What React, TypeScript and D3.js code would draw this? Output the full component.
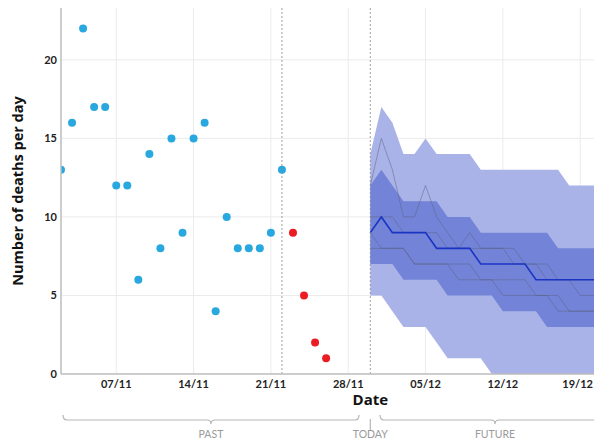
import React, { useRef, useEffect } from 'react';
import * as d3 from 'd3';

// observed deaths, one per day from 02/11
const observedStart = '2020-11-02';
const observed = [13, 16, 22, 17, 17, 12, 12, 6, 14, 8, 15, 9, 15, 16, 4, 10, 8, 8, 8, 9, 13];
// last days, still being reported (red)
const pendingStart = '2020-11-23';
const pending = [9, 5, 2, 1];

// forecast, one per day from 30/11
const forecastStart = '2020-11-30';
const median = [9, 10, 9, 9, 9, 9, 8, 8, 8, 8, 7, 7, 7, 7, 7, 6, 6, 6, 6, 6, 6, 6];
const inner50Low = [7, 7, 7, 6, 6, 6, 6, 5, 5, 5, 5, 5, 4, 4, 4, 4, 3, 3, 3, 3, 3, 3];
const inner50High = [12, 13, 12, 11, 11, 11, 11, 10, 10, 10, 9, 9, 9, 9, 9, 9, 9, 8, 8, 8, 8, 8];
const outer95Low = [5, 5, 4, 3, 3, 3, 2, 1, 1, 1, 1, 0, 0, 0, 0, 0, 0, 0, 0, 0, 0, 0];
const outer95High = [14, 17, 16, 14, 14, 15, 14, 14, 14, 14, 13, 13, 13, 13, 13, 13, 13, 13, 12, 12, 12, 12];
const sampleA = [12, 15, 13, 10, 10, 12, 10, 9, 8, 9, 8, 8, 8, 7, 7, 7, 6, 6, 6, 5, 5, 5];
const sampleB = [10, 10, 10, 9, 9, 9, 9, 8, 8, 8, 8, 8, 8, 8, 7, 7, 7, 6, 6, 6, 6, 6];
const sampleC = [9, 8, 8, 8, 7, 7, 7, 7, 7, 7, 6, 6, 6, 6, 6, 5, 5, 5, 4, 4, 4, 4];
const sampleD = [8, 8, 8, 8, 7, 7, 7, 7, 6, 6, 6, 6, 5, 5, 5, 5, 5, 4, 4, 4, 4, 4];

const tickDates = ['2020-11-07', '2020-11-14', '2020-11-21', '2020-11-28', '2020-12-05', '2020-12-12', '2020-12-19'];
const yTicks = [0, 5, 10, 15, 20];
const lastReport = '2020-11-22';
const today = '2020-11-30';

const parse = d3.timeParse('%Y-%m-%d');
const days = (start, n) => d3.range(n).map(i => d3.timeDay.offset(parse(start), i));

export default function App() {
    const svgRef = useRef();

    useEffect(() => {
        const svg = d3.select(svgRef.current);
        svg.selectAll('*').remove();

        const left = 61, right = 594, top = 8, bottom = 374;
        const x = d3.scaleTime()
            .domain([parse('2020-11-02'), d3.timeHour.offset(parse('2020-12-20'), 6)])
            .range([left, right]);
        const y = d3.scaleLinear().domain([0, 23.3]).range([bottom, top]);

        svg.append('clipPath').attr('id', 'plot')
            .append('rect').attr('x', left).attr('y', top)
            .attr('width', right - left).attr('height', bottom - top);

        // grid
        const grid = svg.append('g');
        grid.selectAll('.hg').data(yTicks.filter(d => d > 0)).join('line')
            .attr('x1', left).attr('x2', right)
            .attr('y1', d => y(d)).attr('y2', d => y(d))
            .attr('stroke', '#ebebeb');
        grid.selectAll('.vg').data(tickDates).join('line')
            .attr('x1', d => x(parse(d))).attr('x2', d => x(parse(d)))
            .attr('y1', top).attr('y2', bottom)
            .attr('stroke', '#ebebeb');

        const plot = svg.append('g').attr('clip-path', 'url(#plot)');
        const fDays = days(forecastStart, median.length);

        const band = (lo, hi) => d3.area()
            .x((d, i) => x(fDays[i]))
            .y0((d, i) => y(lo[i]))
            .y1((d, i) => y(hi[i]))(lo);

        plot.append('path').attr('d', band(outer95Low, outer95High)).attr('fill', '#aab3e7');
        plot.append('path').attr('d', band(inner50Low, inner50High)).attr('fill', '#7384d8');

        const line = d3.line().x((d, i) => x(fDays[i])).y(d => y(d));
        [sampleA, sampleB, sampleC, sampleD].forEach(s => {
            plot.append('path').attr('d', line(s))
                .attr('fill', 'none').attr('stroke', '#5a5f80')
                .attr('stroke-opacity', 0.55).attr('stroke-width', 0.9);
        });
        plot.append('path').attr('d', line(median))
            .attr('fill', 'none').attr('stroke', '#1b34c4').attr('stroke-width', 1.6);

        // vertical markers
        [lastReport, today].forEach(d => {
            svg.append('line')
                .attr('x1', x(parse(d))).attr('x2', x(parse(d)))
                .attr('y1', top).attr('y2', bottom)
                .attr('stroke', '#888').attr('stroke-width', 0.8)
                .attr('stroke-dasharray', '2,2');
        });

        // points
        const oDays = days(observedStart, observed.length);
        plot.selectAll('.obs').data(observed).join('circle')
            .attr('cx', (d, i) => x(oDays[i])).attr('cy', d => y(d))
            .attr('r', 4).attr('fill', '#29a8e0');
        const pDays = days(pendingStart, pending.length);
        plot.selectAll('.pend').data(pending).join('circle')
            .attr('cx', (d, i) => x(pDays[i])).attr('cy', d => y(d))
            .attr('r', 4).attr('fill', '#ec1c24');

        // axes lines
        svg.append('line').attr('x1', left).attr('x2', left).attr('y1', top).attr('y2', bottom)
            .attr('stroke', '#bdbdbd').attr('stroke-width', 1.5);
        svg.append('line').attr('x1', left).attr('x2', right).attr('y1', bottom).attr('y2', bottom)
            .attr('stroke', '#bdbdbd').attr('stroke-width', 1.5);

        const font = 'Lato, "Open Sans", sans-serif';
        const titleFont = '"Open Sans", Lato, sans-serif';
        svg.selectAll('.yt').data(yTicks).join('text')
            .attr('x', left - 4).attr('y', d => y(d) + 4)
            .attr('text-anchor', 'end').attr('font-family', font)
            .attr('font-weight', 700).attr('font-size', 11).attr('fill', '#222')
            .text(d => d);
        svg.selectAll('.xt').data(tickDates).join('text')
            .attr('x', d => x(parse(d))).attr('y', bottom + 14)
            .attr('text-anchor', 'middle').attr('font-family', font)
            .attr('font-weight', 700).attr('font-size', 11).attr('fill', '#222')
            .text(d => d3.timeFormat('%d/%m')(parse(d)))
            .each(function () {
                // keep the last label inside the page
                const w = this.getComputedTextLength();
                const cx = +this.getAttribute('x');
                if (cx + w / 2 > right - 1) this.setAttribute('x', right - 1 - w / 2);
            });

        svg.append('text')
            .attr('transform', `translate(23,${(top + bottom) / 2}) rotate(-90)`)
            .attr('text-anchor', 'middle').attr('font-family', titleFont)
            .attr('font-weight', 700).attr('font-size', 14.5).attr('fill', '#111')
            .text('Number of deaths per day');
        svg.append('text')
            .attr('x', x(parse(today))).attr('y', 405)
            .attr('text-anchor', 'middle').attr('font-family', titleFont)
            .attr('font-weight', 700).attr('font-size', 15).attr('fill', '#111')
            .text('Date');

        // braces
        const brace = (x0, x1, xm) => {
            const y0 = 415, y1 = 420, r = 4;
            return `M${x0},${y0} Q${x0},${y1} ${x0 + r},${y1} L${xm - r},${y1} Q${xm},${y1} ${xm},${y1 + 4}`
                + ` Q${xm},${y1} ${xm + r},${y1} L${x1 - r},${y1} Q${x1},${y1} ${x1},${y0}`;
        };
        const tx = x(parse(today));
        svg.append('path').attr('d', brace(63, 359, 211))
            .attr('fill', 'none').attr('stroke', '#b5b5b5').attr('stroke-width', 1.2);
        svg.append('path').attr('d', brace(380, 612, 495))
            .attr('fill', 'none').attr('stroke', '#b5b5b5').attr('stroke-width', 1.2);
        svg.append('line').attr('x1', tx).attr('x2', tx).attr('y1', 419).attr('y2', 431)
            .attr('stroke', '#b5b5b5').attr('stroke-width', 1.2);
        [['PAST', 211], ['TODAY', tx], ['FUTURE', 495]].forEach(([t, px]) => {
            svg.append('text').attr('x', px).attr('y', 438)
                .attr('text-anchor', 'middle').attr('font-family', font)
                .attr('font-size', 10.5).attr('fill', '#9a9a9a')
                .text(t);
        });
    }, []);

    return (
        <svg ref={svgRef} width={594} height={441}
            style={{ position: 'absolute', left: 0, top: 0, background: '#fff' }} />
    );
}
